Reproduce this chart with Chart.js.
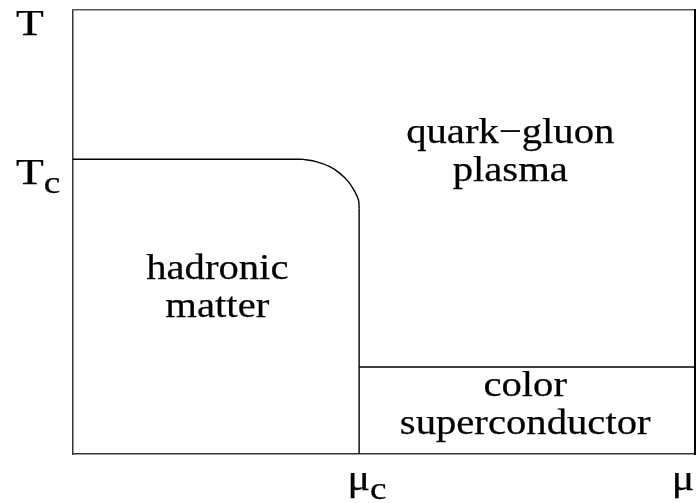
<!DOCTYPE html>
<html>
<head>
<meta charset="utf-8">
<script src="https://cdn.jsdelivr.net/npm/chart.js@4.4.1/dist/chart.umd.min.js"></script>
<style>
  html, body { margin: 0; padding: 0; background: #fff; }
  #wrap { width: 697px; height: 503px; }
  .pre { font-family: "Liberation Serif"; position: absolute; left: -999px; }
</style>
</head>
<body>
<span class="pre">quark−gluon μ</span>
<div id="wrap"><canvas id="c" width="697" height="503"></canvas></div>
<script>
// ---- data (μ on x, T on y, both normalised 0..1) ----
const flatMu   = [0, 0.368];
const flatT    = [0.664, 0.664];
const arcMu    = [0.368, 0.392, 0.413, 0.429, 0.443, 0.453, 0.459, 0.460];
const arcT     = [0.664, 0.658, 0.647, 0.632, 0.613, 0.591, 0.572, 0.553];
const wallMu   = [0.460, 0.460];
const wallT    = [0.553, 0];
const cscMu    = [0.460, 1];
const cscT     = [0.196, 0.196];

const axisTickT  = [1, 0.664];
const axisTickTLabels = [["T", ""], ["T", "c"]];
const axisTickMu = [0.46, 1];
const axisTickMuLabels = [["μ", "c"], ["μ", ""]];

const regionNames = [["quark−gluon", "plasma"], ["hadronic", "matter"], ["color", "superconductor"]];
const regionMu = [0.703, 0.232, 0.727];
const regionT  = [0.680, 0.373, 0.110];

function pts(xs, ys) { return xs.map((x, i) => ({ x: x, y: ys[i] })); }

const lineStyle = { borderColor: '#000', borderWidth: 1.4, pointRadius: 0, fill: false, showLine: true };
const FONT = '"Liberation Serif", "Times New Roman", serif';

const labelPlugin = {
  id: 'labelPlugin',
  afterDraw(chart) {
    const ctx = chart.ctx;
    const xs = chart.scales.x, ys = chart.scales.y;
    const sx = 1.13;
    ctx.save();
    ctx.fillStyle = '#000';
    ctx.strokeStyle = '#000';
    ctx.lineWidth = 0.25;
    ctx.font = '36px ' + FONT;
    ctx.textAlign = 'center';
    ctx.textBaseline = 'middle';
    regionNames.forEach((lines, i) => {
      const cx = xs.getPixelForValue(regionMu[i]);
      const cy = ys.getPixelForValue(regionT[i]);
      const lh = 38;
      lines.forEach((t, j) => {
        const y = cy + (j - (lines.length - 1) / 2) * lh;
        ctx.save();
        ctx.translate(cx, y);
        ctx.scale(sx, 1);
        ctx.fillText(t, 0, 0);
        ctx.strokeText(t, 0, 0);
        ctx.restore();
      });
    });
    function drawSub(main, sub, x, y, align, msx) {
      ctx.save();
      ctx.font = '35px ' + FONT;
      const w1 = ctx.measureText(main).width * msx;
      ctx.font = '31px ' + FONT;
      const w2 = sub ? ctx.measureText(sub).width * 1.2 : 0;
      const total = w1 + w2;
      let left = x;
      if (align === 'center') left = x - total / 2;
      ctx.textAlign = 'left';
      ctx.textBaseline = 'alphabetic';
      ctx.translate(left, y);
      ctx.save();
      ctx.scale(msx, 1);
      ctx.font = '35px ' + FONT;
      ctx.fillText(main, 0, 0);
      ctx.strokeText(main, 0, 0);
      ctx.restore();
      if (sub) {
        ctx.translate(w1, 0);
        ctx.scale(1.2, 1);
        ctx.font = '31px ' + FONT;
        ctx.fillText(sub, 0, 9);
        ctx.strokeText(sub, 0, 9);
      }
      ctx.restore();
    }
    axisTickT.forEach((v, i) => {
      const y = ys.getPixelForValue(v);
      drawSub(axisTickTLabels[i][0], axisTickTLabels[i][1], 16, y + 25, 'left', 1.3);
    });
    axisTickMu.forEach((v, i) => {
      const x = xs.getPixelForValue(v);
      drawSub(axisTickMuLabels[i][0], axisTickMuLabels[i][1], x + (axisTickMuLabels[i][1] ? 8 : -12), 490, 'center', 1.2);
    });
    ctx.restore();
  }
};

const hiddenAxis = (pos, col, w) => ({
  type: 'linear', position: pos, min: 0, max: 1,
  grid: { display: false, drawTicks: false },
  ticks: { display: false },
  border: { display: true, color: col, width: w }
});

function build() {
  new Chart(document.getElementById('c'), {
    type: 'scatter',
    data: {
      datasets: [
        Object.assign({ data: pts(flatMu, flatT), tension: 0 }, lineStyle),
        Object.assign({ data: pts(arcMu, arcT), tension: 0.4 }, lineStyle),
        Object.assign({ data: pts(wallMu, wallT), tension: 0 }, lineStyle),
        Object.assign({ data: pts(cscMu, cscT), tension: 0 }, lineStyle)
      ]
    },
    options: {
      responsive: false,
      animation: false,
      layout: { padding: { left: 73, top: 10, right: 2, bottom: 49 } },
      plugins: { legend: { display: false }, tooltip: { enabled: false } },
      scales: {
        x: hiddenAxis('bottom', '#333', 1.5),
        y: hiddenAxis('left', '#333', 1.5),
        x2: hiddenAxis('top', '#555', 1.5),
        y2: hiddenAxis('right', '#000', 2)
      }
    },
    plugins: [labelPlugin]
  });
}
Promise.all([
  document.fonts.load('36px "Liberation Serif"', 'quark−gluon μ'),
  document.fonts.load('31px "Liberation Serif"', 'c')
]).then(build, build);
</script>
</body>
</html>
